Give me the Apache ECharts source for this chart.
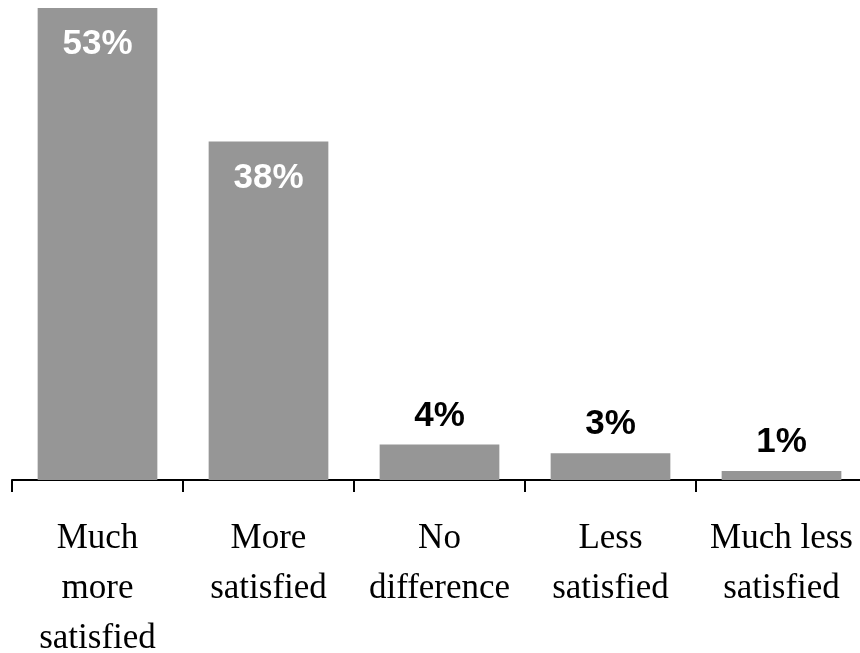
<!DOCTYPE html>
<html>
<head>
<meta charset="utf-8">
<script src="https://cdn.jsdelivr.net/npm/echarts@6/dist/echarts.min.js"></script>
<style>
html,body{margin:0;padding:0;background:#fff;}
#chart{width:860px;height:653px;}
</style>
</head>
<body>
<div id="chart"></div>
<script>
var categories = ["Much\nmore\nsatisfied", "More\nsatisfied", "No\ndifference", "Less\nsatisfied", "Much less\nsatisfied"];
var values = [53, 38, 4, 3, 1];
var insideThreshold = 10;

var chart = echarts.init(document.getElementById('chart'));
var seriesData = values.map(function (v) {
  var inside = v > insideThreshold;
  return {
    value: v,
    label: {
      position: inside ? 'insideTop' : 'top',
      color: inside ? '#ffffff' : '#000000',
      distance: inside ? 19 : 11
    }
  };
});
chart.setOption({
  animation: false,
  grid: {left: 12, width: 855, top: 8, bottom: 173, containLabel: false, outerBoundsMode: 'none'},
  xAxis: {
    type: 'category',
    data: categories,
    axisLine: {lineStyle: {color: '#000', width: 2}},
    axisTick: {show: true, length: 12, lineStyle: {color: '#000', width: 2}},
    axisLabel: {
      interval: 0,
      margin: 34,
      color: '#000',
      fontFamily: 'Liberation Serif',
      fontSize: 35,
      lineHeight: 50
    }
  },
  yAxis: {
    type: 'value',
    min: 0,
    max: 53,
    show: false,
    splitLine: {show: false}
  },
  series: [{
    type: 'bar',
    data: seriesData,
    barCategoryGap: '30%',
    itemStyle: {color: '#969696'},
    label: {
      show: true,
      formatter: '{c}%',
      fontFamily: 'Liberation Sans',
      fontWeight: 'bold',
      fontSize: 35
    }
  }]
});
</script>
</body>
</html>
